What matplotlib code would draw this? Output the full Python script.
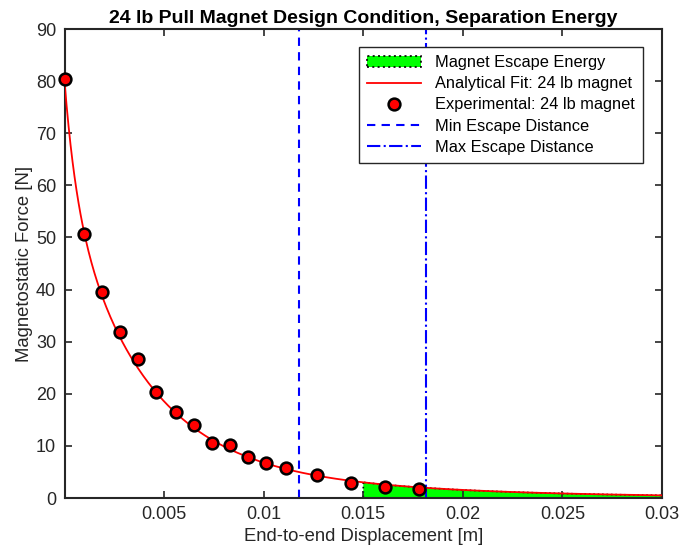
import numpy as np
import matplotlib.pyplot as plt

plt.rcParams['font.family'] = ['Liberation Sans', 'DejaVu Sans']

# experimental pull-force measurements
disp_exp = [0.0, 0.0010, 0.0019, 0.0028, 0.0037, 0.0046, 0.0056, 0.0065,
            0.0074, 0.0083, 0.0092, 0.0101, 0.0111, 0.0127, 0.0144, 0.0161,
            0.0178]
force_exp = [80.4, 50.6, 39.6, 31.8, 26.6, 20.4, 16.5, 14.0, 10.6, 10.1,
             7.9, 6.8, 5.7, 4.5, 2.9, 2.2, 1.7]

# analytical fit: sum of exponential terms, amplitude [N] and length [m]
fit_amp = [20.0, 50.0, 10.0]
fit_len = [0.0006, 0.0036, 0.010]

x_min_escape = 0.01175
x_max_escape = 0.01814
x_energy_start = 0.015
x_end = 0.03


def fit_force(x):
    f = np.zeros_like(x)
    for a, c in zip(fit_amp, fit_len):
        f += a * np.exp(-x / c)
    return f


x_fit = np.linspace(0, x_end, 600)
f_fit = fit_force(x_fit)

fig = plt.figure(figsize=(6.8, 5.58), dpi=100)
ax = fig.add_axes([0.0949, 0.1075, 0.8787, 0.8405])

x_fill = np.linspace(x_energy_start, x_end, 300)
ax.fill_between(x_fill, 0, fit_force(x_fill), facecolor=(0, 1, 0),
                edgecolor='black', linestyle=':', linewidth=1.2,
                label='Magnet Escape Energy', zorder=1)
ax.plot(x_fit, f_fit, color='red', lw=1.3,
        label='Analytical Fit: 24 lb magnet', zorder=3)
ax.plot(disp_exp, force_exp, 'o', color='red', mfc='red', mec='black',
        ms=8.5, mew=1.8, label='Experimental: 24 lb magnet', zorder=4,
        clip_on=False)
ax.axvline(x_min_escape, color='blue', ls=(0, (4, 3)), lw=1.5,
           label='Min Escape Distance', zorder=2)
ax.axvline(x_max_escape, color='blue', ls='-.', lw=1.5,
           label='Max Escape Distance', zorder=2)

ax.set_xlim(0, x_end)
ax.set_ylim(0, 90)
ax.set_xticks([0.005, 0.01, 0.015, 0.02, 0.025, 0.03])
ax.set_xticklabels(['0.005', '0.01', '0.015', '0.02', '0.025', '0.03'])
ax.set_yticks(np.arange(0, 91, 10))

dark = '#262626'
for s in ax.spines.values():
    s.set_color(dark)
    s.set_linewidth(1.5)
ax.tick_params(direction='in', top=True, right=True, length=5, width=1.2,
               colors=dark, labelsize=13, pad=6)

ax.set_xlabel('End-to-end Displacement [m]', fontsize=13.3, color=dark,
              labelpad=3)
ax.set_ylabel('Magnetostatic Force [N]', fontsize=13.3, color=dark,
              labelpad=2)
ax.set_title('24 lb Pull Magnet Design Condition, Separation Energy',
             fontsize=14, fontweight='bold', pad=4)

leg = ax.legend(loc='upper right', bbox_to_anchor=(0.968, 0.962),
                fontsize=11.8, frameon=True, fancybox=False,
                edgecolor=dark, framealpha=1, borderpad=0.5,
                labelspacing=0.38, handlelength=3.3, handletextpad=0.85,
                borderaxespad=0)
leg.get_frame().set_linewidth(1.0)

fig.savefig('out.png', dpi=100)
